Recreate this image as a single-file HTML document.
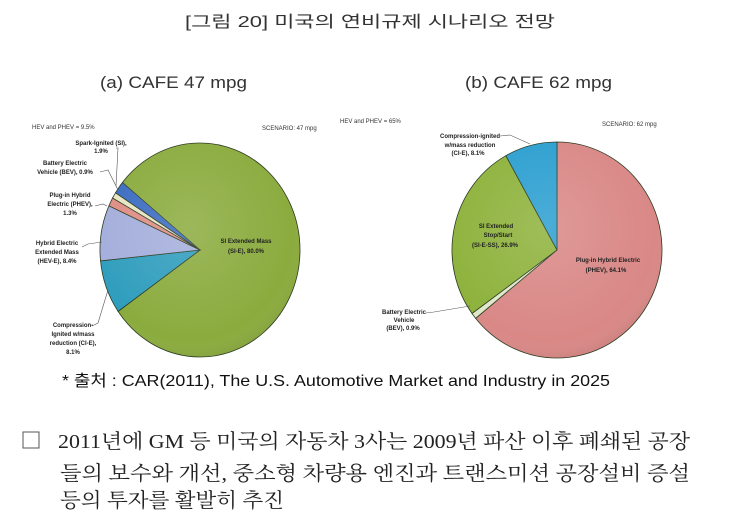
<!DOCTYPE html>
<html><head><meta charset="utf-8"><style>
html,body{margin:0;padding:0;background:#fff;width:740px;height:521px;overflow:hidden}
svg{display:block}
.s{font-family:"Liberation Sans",sans-serif;font-size:6px;fill:#333}
.b{font-family:"Liberation Sans",sans-serif;font-size:6px;fill:#222;font-weight:bold}
</style></head><body>
<svg id="svg" width="740" height="521" viewBox="0 0 740 521" xmlns="http://www.w3.org/2000/svg">
<defs>
<radialGradient id="sh" cx="0.45" cy="0.4" r="0.65">
<stop offset="0" stop-color="#fff" stop-opacity="0.15"/>
<stop offset="0.8" stop-color="#fff" stop-opacity="0"/>
<stop offset="1" stop-color="#000" stop-opacity="0.12"/>
</radialGradient>
</defs>
<text x="370" y="27" text-anchor="middle" font-family="'Liberation Sans','Noto Sans CJK KR',sans-serif" font-size="16" fill="#333" textLength="370" lengthAdjust="spacingAndGlyphs">[그림 20] 미국의 연비규제 시나리오 전망</text>
<text x="100" y="88" font-family="'Liberation Sans',sans-serif" font-size="17" fill="#333" textLength="147" lengthAdjust="spacingAndGlyphs">(a) CAFE 47 mpg</text>
<text x="465" y="88" font-family="'Liberation Sans',sans-serif" font-size="17" fill="#333" textLength="147" lengthAdjust="spacingAndGlyphs">(b) CAFE 62 mpg</text>
<g id="pies"></g>
<g>
<text class="s" x="32" y="129">HEV and PHEV = 9.5%</text>
<text class="s" x="262" y="130">SCENARIO: 47 mpg</text>
<text class="b" x="101" y="145" text-anchor="middle">Spark-Ignited (SI),</text>
<text class="b" x="101" y="153" text-anchor="middle">1.9%</text>
<text class="b" x="65" y="165" text-anchor="middle">Battery Electric</text>
<text class="b" x="65" y="174" text-anchor="middle">Vehicle (BEV), 0.9%</text>
<text class="b" x="70" y="197" text-anchor="middle">Plug-in Hybrid</text>
<text class="b" x="70" y="206" text-anchor="middle">Electric (PHEV),</text>
<text class="b" x="70" y="215" text-anchor="middle">1.3%</text>
<text class="b" x="57" y="245" text-anchor="middle">Hybrid Electric</text>
<text class="b" x="57" y="254" text-anchor="middle">Extended Mass</text>
<text class="b" x="57" y="263" text-anchor="middle">(HEV-E), 8.4%</text>
<text class="b" x="246" y="243" text-anchor="middle">SI Extended Mass</text>
<text class="b" x="246" y="253" text-anchor="middle">(SI-E), 80.0%</text>
<text class="b" x="73" y="327" text-anchor="middle">Compression-</text>
<text class="b" x="73" y="336" text-anchor="middle">Ignited w/mass</text>
<text class="b" x="73" y="345" text-anchor="middle">reduction (CI-E),</text>
<text class="b" x="73" y="354" text-anchor="middle">8.1%</text>
<polyline points="116,148 118,148 116,186" fill="none" stroke="#555" stroke-width="0.6"/>
<polyline points="100,172 108,170 118,190" fill="none" stroke="#555" stroke-width="0.6"/>
<polyline points="95,206 103,204 107,206" fill="none" stroke="#555" stroke-width="0.6"/>
<polyline points="82,247 88,244 102,242" fill="none" stroke="#555" stroke-width="0.6"/>
<polyline points="92,326 98,323 108,290" fill="none" stroke="#555" stroke-width="0.6"/>

<text class="s" x="340" y="123">HEV and PHEV = 65%</text>
<text class="s" x="602" y="126">SCENARIO: 62 mpg</text>
<text class="b" x="470" y="138" text-anchor="middle">Compression-ignited</text>
<text class="b" x="470" y="147" text-anchor="middle">w/mass reduction</text>
<text class="b" x="468" y="155" text-anchor="middle">(CI-E), 8.1%</text>
<polyline points="500,136 510,135 530,144" fill="none" stroke="#555" stroke-width="0.6"/>
<text class="b" x="496" y="228" text-anchor="middle">SI Extended</text>
<text class="b" x="498" y="237" text-anchor="middle">Stop/Start</text>
<text class="b" x="495" y="247" text-anchor="middle">(SI-E-SS), 26.9%</text>
<text class="b" x="608" y="262" text-anchor="middle">Plug-in Hybrid Electric</text>
<text class="b" x="606" y="272" text-anchor="middle">(PHEV), 64.1%</text>
<text class="b" x="404" y="314" text-anchor="middle">Battery Electric</text>
<text class="b" x="404" y="322" text-anchor="middle">Vehicle</text>
<text class="b" x="403" y="330" text-anchor="middle">(BEV), 0.9%</text>
<polyline points="426,313 434,312 470,306" fill="none" stroke="#555" stroke-width="0.6"/>
</g>
<text x="62" y="386" font-family="'Liberation Sans','Noto Sans CJK KR',sans-serif" font-size="16" fill="#111" textLength="548" lengthAdjust="spacingAndGlyphs">* 출처 : CAR(2011), The U.S. Automotive Market and Industry in 2025</text>
<rect x="23" y="432" width="16" height="16" fill="none" stroke="#555" stroke-width="1"/>
<g font-family="'Liberation Serif','Noto Serif CJK SC','Noto Sans CJK KR',serif" font-size="20" fill="#222">
<text x="58" y="448" textLength="632" lengthAdjust="spacingAndGlyphs">2011년에 GM 등 미국의 자동차 3사는 2009년 파산 이후 폐쇄된 공장</text>
<text x="60" y="480" textLength="630" lengthAdjust="spacingAndGlyphs">들의 보수와 개선, 중소형 차량용 엔진과 트랜스미션 공장설비 증설</text>
<text x="60" y="507" textLength="224" lengthAdjust="spacingAndGlyphs">등의 투자를 활발히 추진</text>
</g>
</svg>
<script>
(function(){
var NS="http://www.w3.org/2000/svg",g=document.getElementById("pies");
function pie(cx,cy,rx,ry,start,sl){
 var a=start;
 sl.forEach(function(s){
  var b=a+s[0]*3.6,r1=a*Math.PI/180,r2=b*Math.PI/180;
  var x1=cx+rx*Math.cos(r1),y1=cy+ry*Math.sin(r1),x2=cx+rx*Math.cos(r2),y2=cy+ry*Math.sin(r2);
  var p=document.createElementNS(NS,"path");
  p.setAttribute("d","M"+cx+","+cy+" L"+x1+","+y1+" A"+rx+","+ry+" 0 "+((b-a)>180?1:0)+" 1 "+x2+","+y2+" Z");
  p.setAttribute("fill",s[1]);p.setAttribute("stroke","#2a3a20");p.setAttribute("stroke-width","0.8");
  g.appendChild(p);a=b;
 });
 var e=document.createElementNS(NS,"ellipse");
 e.setAttribute("cx",cx);e.setAttribute("cy",cy);e.setAttribute("rx",rx);e.setAttribute("ry",ry);
 e.setAttribute("fill","url(#sh)");g.appendChild(e);
}
pie(200,250,100,107,217,[[80,"#8bab3e"],[8.1,"#2f9dbd"],[8.4,"#a4aedb"],[1.3,"#df8d84"],[0.9,"#e6e6c4"],[1.9,"#3b6cc2"]]);
pie(557,250,105,108,-90,[[64.1,"#d98886"],[0.9,"#dfe8c8"],[26.9,"#8eb23c"],[8.1,"#2c9fd0"]]);
})();
</script>
</body></html>
